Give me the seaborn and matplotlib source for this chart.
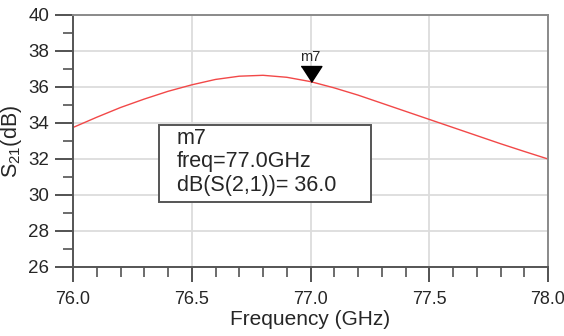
import numpy as np
import pandas as pd
import seaborn as sns
import matplotlib
matplotlib.use("Agg")
import matplotlib.pyplot as plt
from matplotlib.ticker import MultipleLocator, FormatStrFormatter
from matplotlib.patches import Rectangle

# Data
freq_ghz = [76.0, 76.1, 76.2, 76.3, 76.4, 76.5, 76.6, 76.7, 76.8, 76.9, 77.0,
            77.1, 77.2, 77.3, 77.4, 77.5, 77.6, 77.7, 77.8, 77.9, 78.0]
s21_db = [33.75, 34.32, 34.86, 35.33, 35.76, 36.12, 36.42, 36.6, 36.65, 36.54, 36.3,
          35.95, 35.55, 35.1, 34.65, 34.2, 33.75, 33.3, 32.85, 32.42, 32.0]
marker_name = "m7"
marker_freq = 77.0
marker_val = 36.3
marker_text = ["m7", "freq=77.0GHz", "dB(S(2,1))= 36.0"]
x_ticks = [76.0, 76.5, 77.0, 77.5, 78.0]
y_ticks = [26, 28, 30, 32, 34, 36, 38, 40]

df = pd.DataFrame({"freq": freq_ghz, "s21": s21_db})

sns.set_style("white")
plt.rcParams['font.family'] = ['Liberation Sans', 'DejaVu Sans']
plt.rcParams['mathtext.fontset'] = 'custom'
plt.rcParams['mathtext.rm'] = 'Liberation Sans'

fig = plt.figure(figsize=(5.64, 3.36), dpi=100)
ax = fig.add_axes([73/564, 1-267/336, (548-73)/564, (267-15)/336])

sns.lineplot(data=df, x="freq", y="s21", ax=ax, color="#f24848", linewidth=1.0)

ax.set_xlim(76.0, 78.0)
ax.set_ylim(26, 40)
ax.set_xticks(x_ticks)
ax.set_yticks(y_ticks)
ax.xaxis.set_minor_locator(MultipleLocator(0.1))
ax.yaxis.set_minor_locator(MultipleLocator(1))
ax.xaxis.set_major_formatter(FormatStrFormatter('%.1f'))
ax.grid(True, which='major', color='#dcdcdc', linewidth=1.3)
ax.set_axisbelow(True)

for s in ax.spines.values():
    s.set_color('#8a8a8a')
    s.set_linewidth(1.4)
ax.spines['left'].set_color('#555555')
ax.spines['bottom'].set_color('#555555')

ax.tick_params(axis='y', which='major', direction='out', length=13, width=1.3,
               color='#444444', labelsize=13.5, pad=4, left=True)
ax.tick_params(axis='y', which='minor', direction='out', length=7, width=1.1,
               color='#444444', left=True)
ax.tick_params(axis='x', which='major', direction='out', length=11, width=1.3,
               color='#444444', labelsize=13, pad=6, bottom=True)
ax.tick_params(axis='x', which='minor', direction='out', length=7, width=1.1,
               color='#444444', bottom=True)

ax.set_xlabel("Frequency (GHz)", fontsize=15, labelpad=2)
ax.set_ylabel(r"$\mathregular{S_{21}}$(dB)", fontsize=15.5, labelpad=3)

# marker triangle with tip on the curve point
tri = [(-1.3, 2.0), (1.3, 2.0), (0.0, 0.0)]
ax.plot([marker_freq], [marker_val], marker=tri, markersize=23,
        color='black', linestyle='none', clip_on=False)
ax.annotate(marker_name, (marker_freq, marker_val), xytext=(0, 18),
            textcoords='offset points', ha='center', va='center', fontsize=10.5)

# marker readout box
box_l, box_b = (159-73)/475, (267-202)/252
box_w, box_h = (371-159)/475, (202-125)/252
ax.add_patch(Rectangle((box_l, box_b), box_w, box_h, transform=ax.transAxes,
                       facecolor='white', edgecolor='#555555', linewidth=1.4,
                       zorder=5))
line_y = [(267-138)/252, (267-162)/252, (267-185)/252]
for txt, yy in zip(marker_text, line_y):
    ax.text((177-73)/475, yy, txt, transform=ax.transAxes, fontsize=15.5,
            ha='left', va='center', zorder=6)

fig.savefig("out.png", dpi=100, facecolor='white')
